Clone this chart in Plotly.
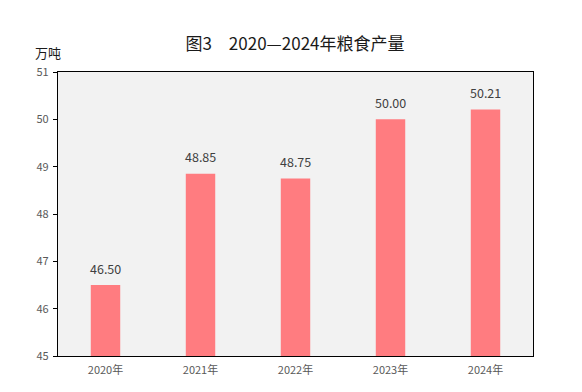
import plotly.graph_objects as go

years = ["2020年", "2021年", "2022年", "2023年", "2024年"]
output = [46.50, 48.85, 48.75, 50.00, 50.21]
labels = ["46.50", "48.85", "48.75", "50.00", "50.21"]
y_ticks = [45, 46, 47, 48, 49, 50, 51]

fig = go.Figure()
fig.add_trace(go.Bar(
    x=years, y=output,
    marker=dict(color="#FF7C80", line=dict(width=0)),
    width=0.31, hoverinfo="x+y",
))

annos = [dict(text="万吨", xref="paper", yref="paper", x=-0.022, y=1.07,
              xanchor="center", yanchor="middle", showarrow=False,
              font=dict(size=13, color="#1a1a1a", family="Noto Sans CJK SC"))]
for xv, yv, lab in zip(years, output, labels):
    annos.append(dict(text=lab, x=xv, y=yv, xref="x", yref="y", showarrow=False,
                      yanchor="middle", yshift=17,
                      font=dict(size=12.5, color="#404040", family="Noto Sans CJK SC")))

fig.update_layout(
    width=574, height=384,
    margin=dict(l=50, r=49, t=64, b=36),
    paper_bgcolor="white", plot_bgcolor="#F2F2F2",
    showlegend=False,
    title=dict(text="图3　2020—2024年粮食产量", x=0.5, xanchor="center",
               y=0.906, yanchor="middle",
               font=dict(size=17, color="#1a1a1a", family="Noto Sans CJK SC")),
    font=dict(family="Noto Sans CJK SC"),
    annotations=annos,
)
fig.update_xaxes(showline=True, linecolor="black", linewidth=1.2, mirror=True,
                 showgrid=False, ticks="", ticklabelstandoff=4,
                 tickfont=dict(size=11, color="#595959"))
fig.update_yaxes(range=[45, 51], tickvals=y_ticks, showline=True, linecolor="black",
                 linewidth=1.2, mirror=True, showgrid=False, zeroline=False,
                 ticks="outside", ticklen=4, tickcolor="black", ticklabelstandoff=2,
                 tickfont=dict(size=11, color="#595959"))

fig.write_html("out.html")
